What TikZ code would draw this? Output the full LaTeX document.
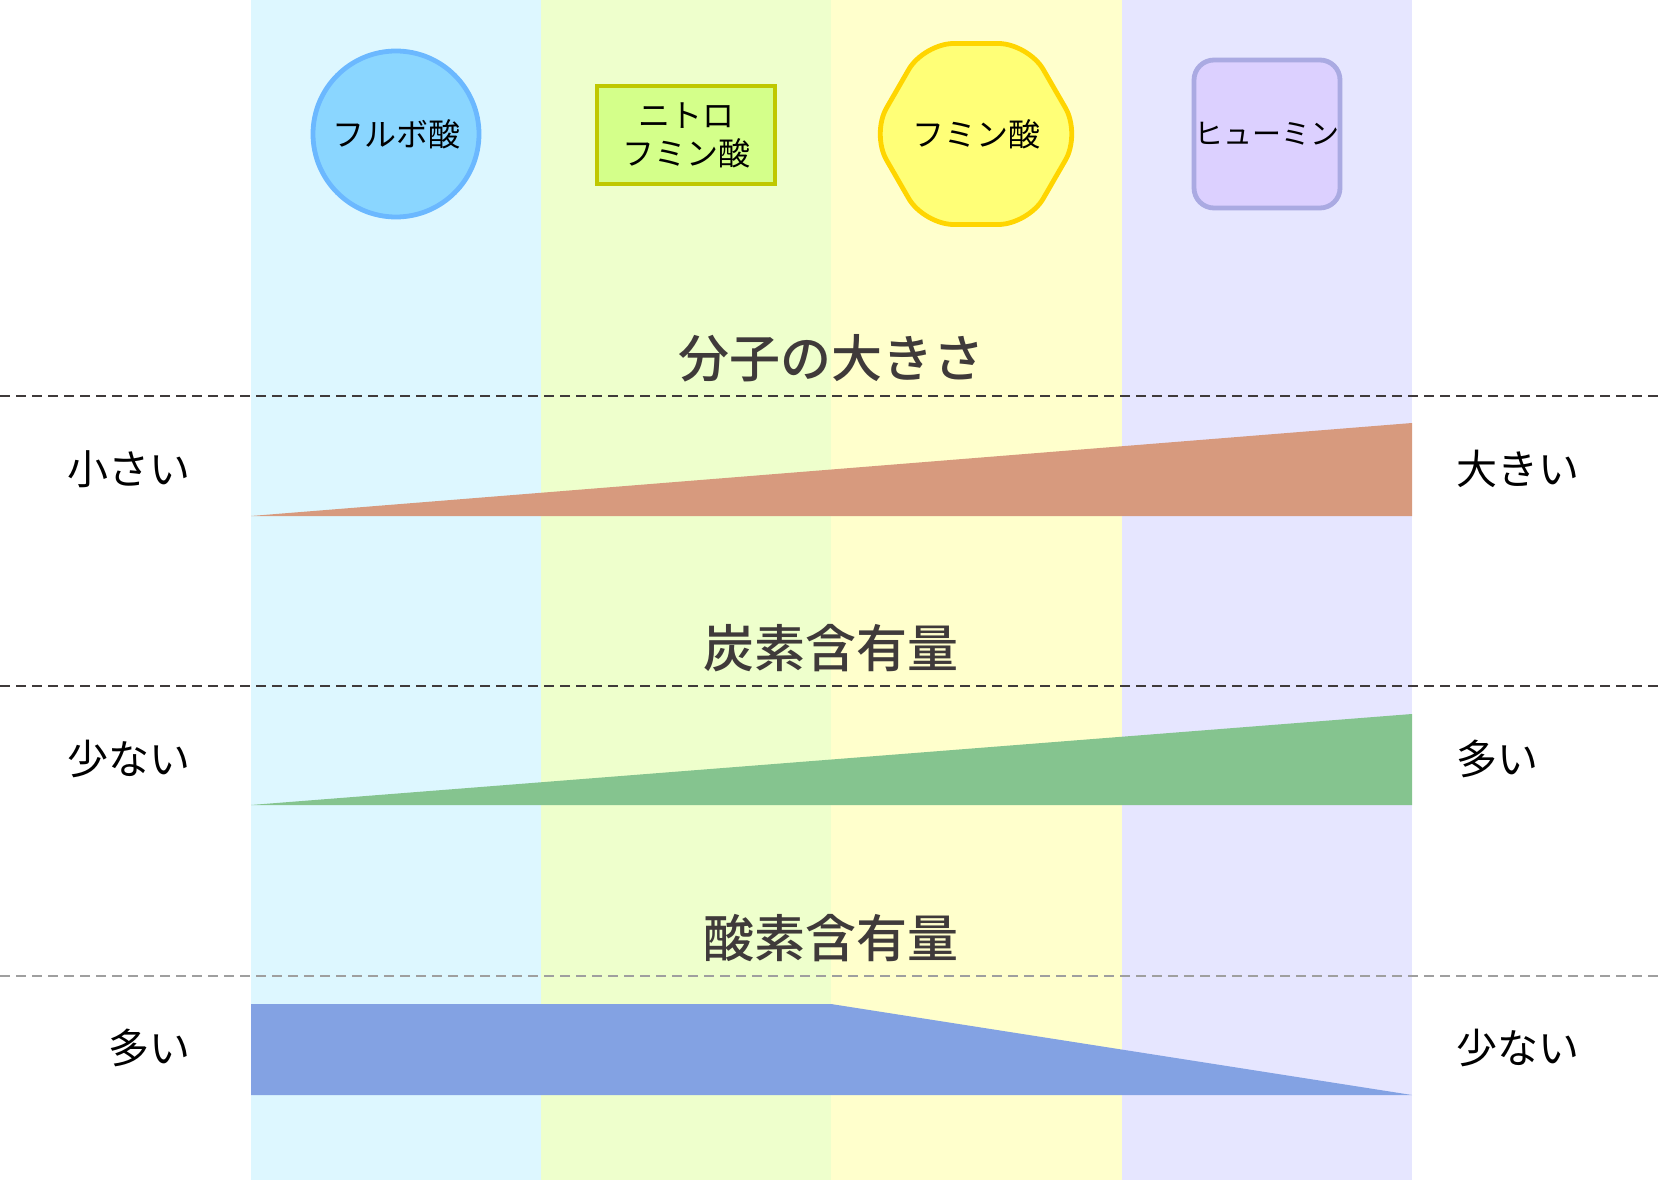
\documentclass[tikz,border=0pt]{standalone}
\usepackage{fontspec}
\usepackage{xcolor}
\usepackage{tikz}
\usetikzlibrary{shapes.geometric}
\setmainfont{Noto Sans CJK JP}
\newfontfamily\headfont{Noto Sans CJK JP}[UprightFont=* Medium]

\definecolor{bandfulvic}{HTML}{DDF7FF}
\definecolor{bandnitro}{HTML}{EEFFCC}
\definecolor{bandhumic}{HTML}{FFFFCC}
\definecolor{bandhumin}{HTML}{E6E6FF}
\definecolor{fillfulvic}{HTML}{8AD6FF}
\definecolor{linefulvic}{HTML}{6BB8FF}
\definecolor{fillnitro}{HTML}{D4FF8A}
\definecolor{linenitro}{HTML}{BFC800}
\definecolor{fillhumic}{HTML}{FFFF77}
\definecolor{linehumic}{HTML}{FFD500}
\definecolor{fillhumin}{HTML}{DCD0FF}
\definecolor{linehumin}{HTML}{AAAAE2}
\definecolor{wedgesize}{HTML}{D79A7E}
\definecolor{wedgecarbon}{HTML}{85C48F}
\definecolor{wedgeoxygen}{HTML}{83A2E3}
\definecolor{titlegray}{HTML}{3F3A3A}

\begin{document}
\begin{tikzpicture}[x=0.5pt,y=0.5pt,yscale=-1,xscale=1,
  sep/.style={dash pattern=on 5pt off 3pt, line width=0.75pt},
  heading/.style={font=\fontsize{25.5}{30}\headfont, text=titlegray, inner sep=0pt},
  side/.style={font=\fontsize{20.5}{24}\selectfont, inner sep=0pt},
  molecule/.style={line width=2.4pt, font=\fontsize{16}{19}\selectfont, inner sep=0pt, align=center}]

\useasboundingbox (0,0) rectangle (1660,1182);

\fill[bandfulvic] (251,0) rectangle (541,1180);

\fill[bandnitro] (541,0) rectangle (831,1180);

\fill[bandhumic] (831,0) rectangle (1122,1180);

\fill[bandhumin] (1122,0) rectangle (1412,1180);


\fill[wedgesize] (251,516) -- (1412,423) -- (1412,516) -- cycle;

\fill[wedgecarbon] (251,805) -- (1412,714) -- (1412,805) -- cycle;

\fill[wedgeoxygen] (251,1004) -- (831,1004) -- (1412,1095) -- (251,1095) -- cycle;


\draw[sep, draw=titlegray] (0,396) -- (1660,396);

\draw[sep, draw=titlegray] (0,686) -- (1660,686);

\draw[sep, draw=gray!75] (0,976) -- (1660,976);



\draw (396,134) node [circle][molecule][fill=fillfulvic, draw=linefulvic, minimum size=83pt] (fulvic) {フルボ酸};

\draw (686,135) node [rectangle][molecule][fill=fillnitro, draw=linenitro, minimum width=89pt, minimum height=49pt] (nitro) {ニトロ\\フミン酸};

\draw (976,134) node [regular polygon, regular polygon sides=6][molecule][rounded corners=15pt, fill=fillhumic, draw=linehumic, minimum size=97pt] (humic) {フミン酸};

\draw (1267,134) node [rectangle][molecule][rounded corners=10pt, fill=fillhumin, draw=linehumin, minimum width=73pt, minimum height=74pt, font=\fontsize{14.5}{18}\selectfont] (humin) {ヒューミン};

\draw (831,358) node [heading] (sizehead) {分子の大きさ};

\draw (831,648) node [heading] (carbonhead) {炭素含有量};

\draw (831,938) node [heading] (oxygenhead) {酸素含有量};

\draw (191,469) node [anchor=east][side] (sizelow) {小さい};

\draw (1456,469) node [anchor=west][side] (sizehigh) {大きい};

\draw (191,759) node [anchor=east][side] (carbonlow) {少ない};

\draw (1456,759) node [anchor=west][side] (carbonhigh) {多い};

\draw (191,1048) node [anchor=east][side] (oxygenhigh) {多い};

\draw (1456,1048) node [anchor=west][side] (oxygenlow) {少ない};


\end{tikzpicture}
\end{document}
